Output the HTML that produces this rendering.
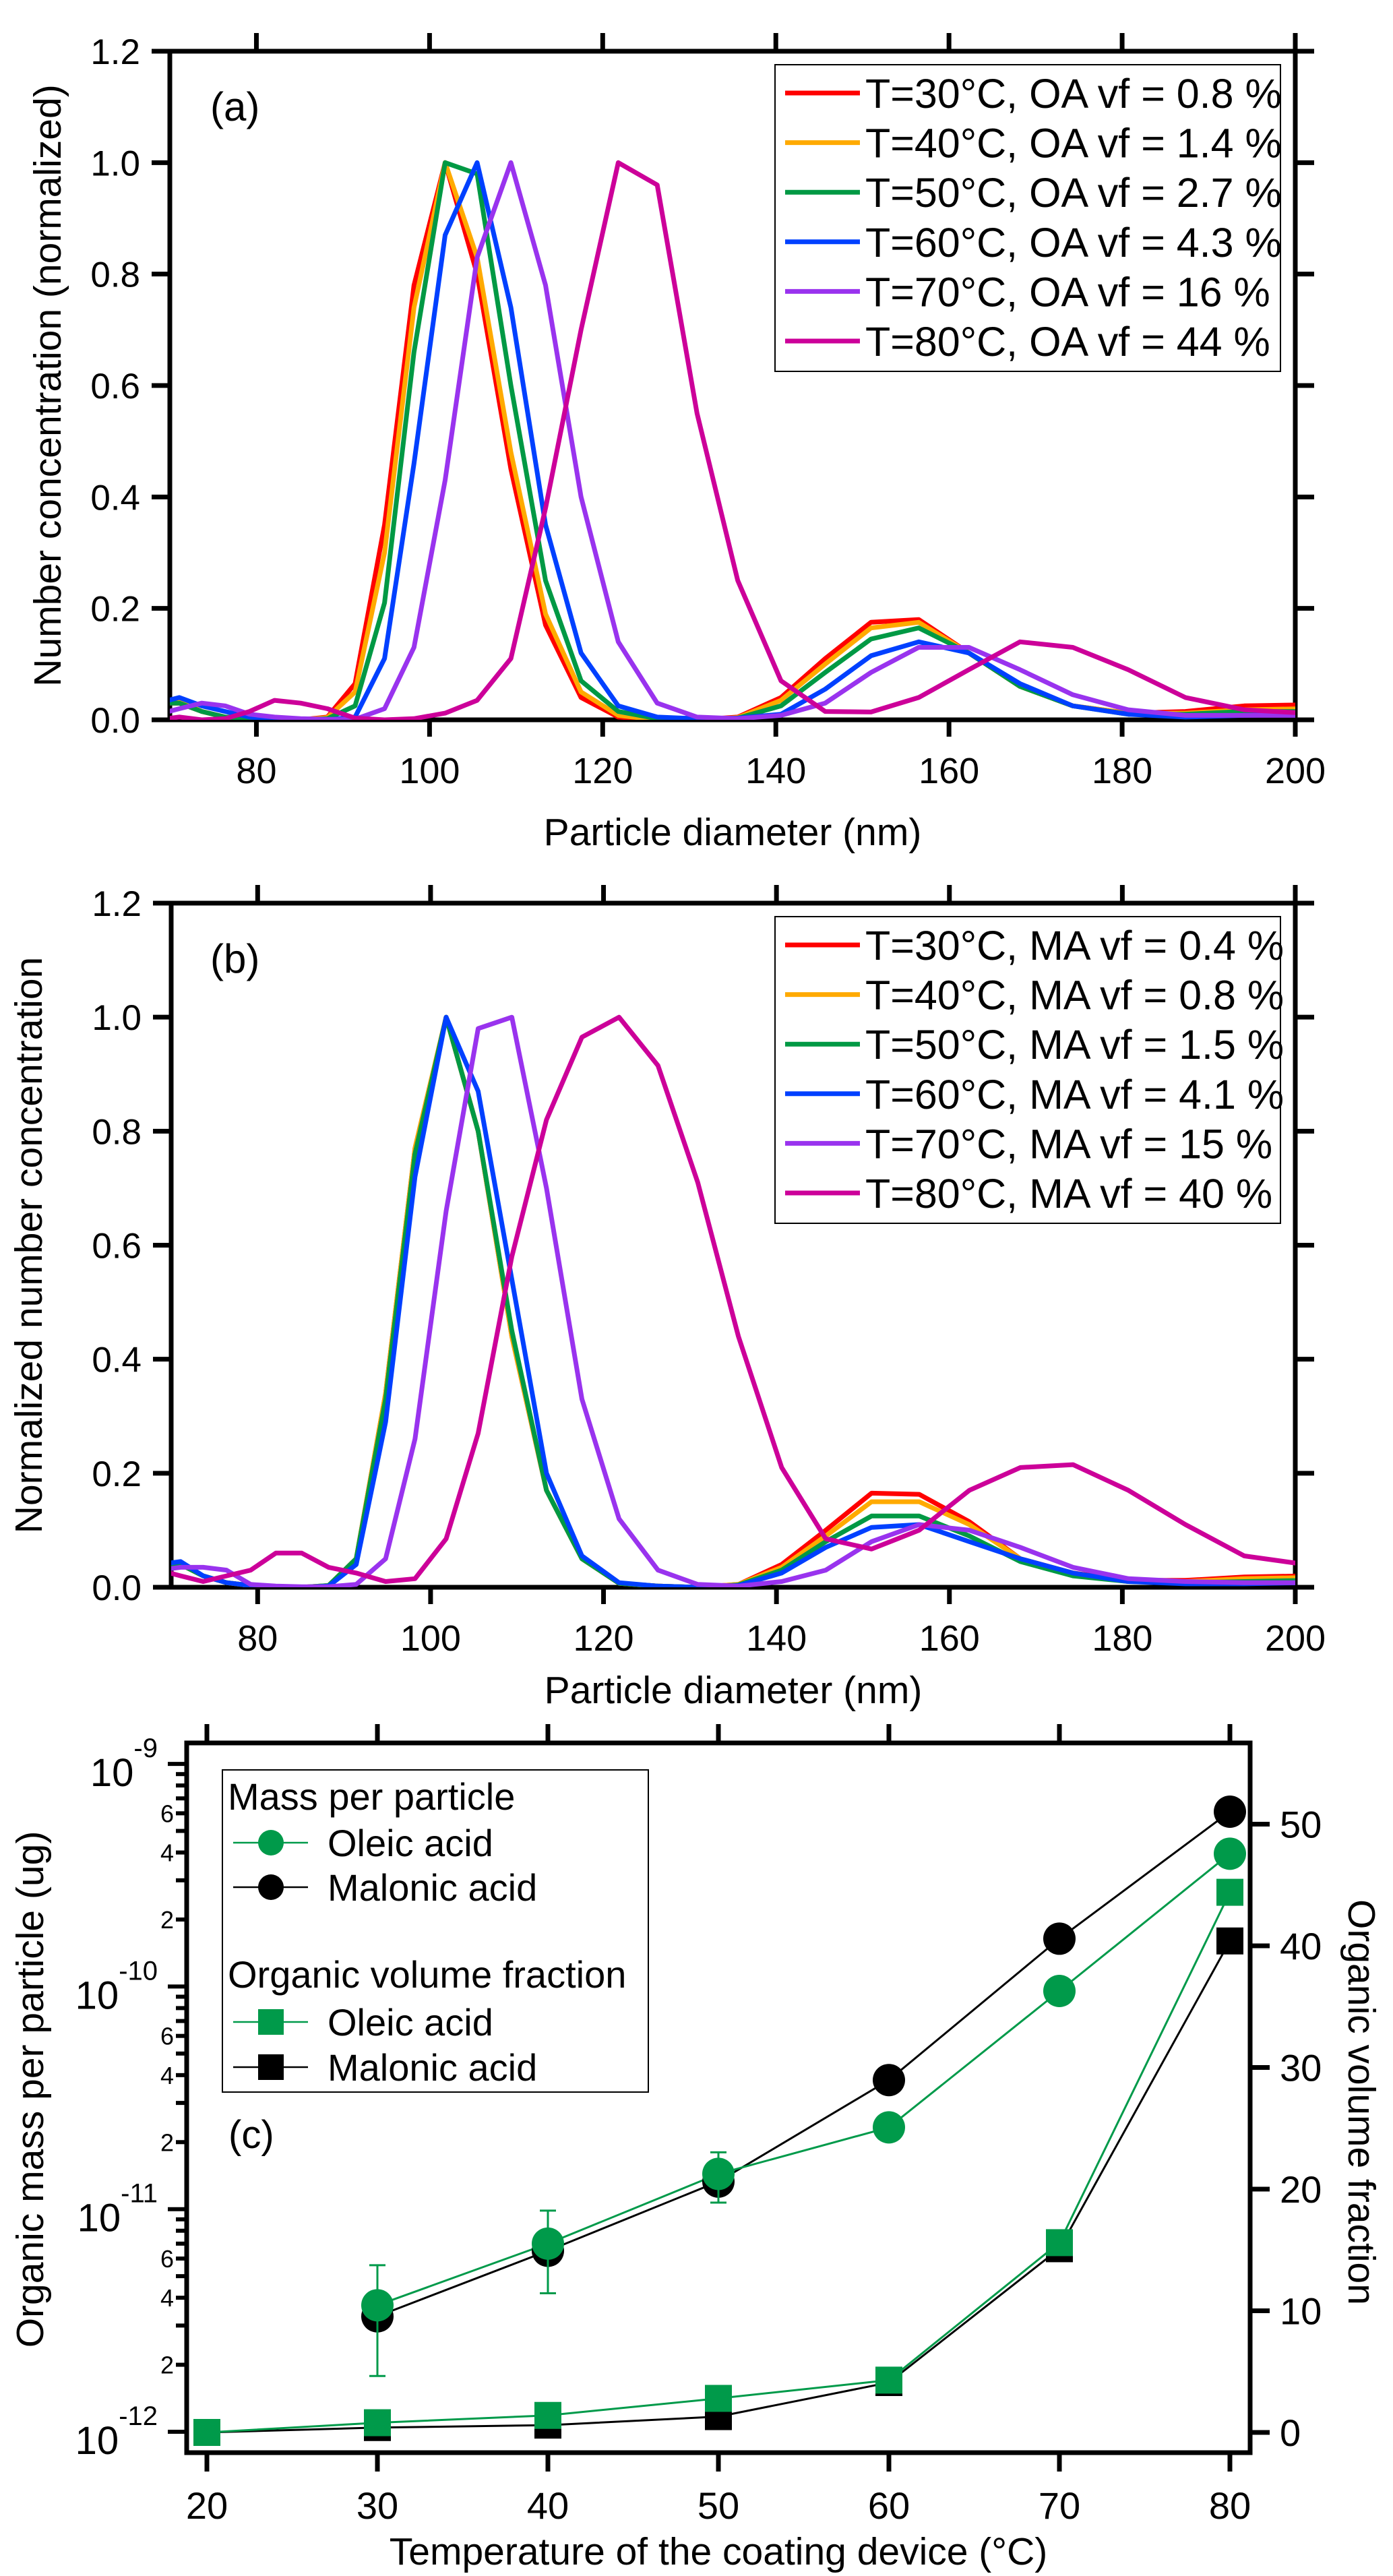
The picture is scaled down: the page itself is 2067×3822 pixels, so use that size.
<!DOCTYPE html>
<html><head><meta charset="utf-8">
<style>
html,body{margin:0;padding:0;background:#fff;}
svg{display:block;}
text{font-family:"Liberation Sans",Arial,sans-serif;fill:#000;}
</style></head>
<body>
<svg id="fig" xmlns="http://www.w3.org/2000/svg" width="2067" height="3822" viewBox="0 0 2067 3822">
<rect x="0" y="0" width="2067" height="3822" fill="#fff"/>
<defs>
<clipPath id="clipA"><rect x="252" y="76" width="1670" height="992"/></clipPath>
<clipPath id="clipB"><rect x="254" y="1340" width="1668" height="1015"/></clipPath>
</defs>
<g id="panelA"></g>
<g id="panelB"></g>
<g id="panelC"></g>
</svg>
<script>
// ---------- data panels (a) and (b) ----------
const diameters = [68.6,71.1,73.7,76.4,79.2,82.1,85.1,88.2,91.4,94.8,98.2,101.8,105.5,109.4,113.4,117.5,121.8,126.3,130.9,135.6,140.6,145.7,151.0,156.5,162.3,168.2,174.3,180.7,187.3,194.1,201.2];
const xTicksAB = [80,100,120,140,160,180,200];
const yTicksAB = ["0.0","0.2","0.4","0.6","0.8","1.0","1.2"];
const seriesColors = ["#ff0000","#ffaa00","#009944","#0040ff","#9933ee","#cc0099"];
const labelsA = ["T=30°C, OA vf = 0.8 %","T=40°C, OA vf = 1.4 %","T=50°C, OA vf = 2.7 %","T=60°C, OA vf = 4.3 %","T=70°C, OA vf = 16 %","T=80°C, OA vf = 44 %"];
const labelsB = ["T=30°C, MA vf = 0.4 %","T=40°C, MA vf = 0.8 %","T=50°C, MA vf = 1.5 %","T=60°C, MA vf = 4.1 %","T=70°C, MA vf = 15 %","T=80°C, MA vf = 40 %"];
const a30 = [0.03,0.03,0.015,0.005,0.002,0.001,0,0.005,0.065,0.35,0.78,1.0,0.80,0.45,0.17,0.04,0.005,0,0,0.005,0.04,0.11,0.175,0.18,0.12,0.06,0.025,0.012,0.015,0.025,0.027];
const a40 = [0.035,0.035,0.015,0.005,0.002,0.001,0,0.004,0.05,0.30,0.74,1.0,0.83,0.48,0.19,0.05,0.008,0,0,0.004,0.035,0.10,0.165,0.175,0.12,0.06,0.025,0.012,0.012,0.018,0.02];
const a50 = [0.03,0.03,0.015,0.005,0.002,0.001,0,0.002,0.025,0.21,0.66,1.0,0.98,0.60,0.25,0.07,0.015,0.002,0,0.003,0.025,0.085,0.145,0.165,0.12,0.06,0.025,0.01,0.01,0.015,0.015];
const a60 = [0.03,0.04,0.025,0.015,0.005,0.001,0,0,0.005,0.11,0.46,0.87,1.0,0.74,0.35,0.12,0.025,0.005,0.002,0.003,0.01,0.055,0.115,0.14,0.12,0.065,0.025,0.01,0.005,0.008,0.01];
const a70 = [0.01,0.02,0.03,0.025,0.01,0.005,0.002,0.001,0.001,0.02,0.13,0.43,0.83,1.0,0.78,0.40,0.14,0.03,0.005,0.002,0.008,0.03,0.085,0.13,0.13,0.09,0.045,0.018,0.008,0.008,0.008];
const a80 = [0.0,0.005,0.0,0.002,0.015,0.035,0.03,0.02,0.003,0.0,0.002,0.012,0.035,0.11,0.38,0.70,1.0,0.96,0.55,0.25,0.07,0.015,0.014,0.04,0.09,0.14,0.13,0.09,0.04,0.018,0.012];
const b30 = [0.04,0.04,0.02,0.008,0.003,0.001,0,0.003,0.05,0.34,0.77,1.0,0.80,0.44,0.17,0.05,0.007,0.002,0,0.005,0.04,0.10,0.165,0.163,0.115,0.05,0.025,0.012,0.012,0.018,0.02];
const b40 = [0.04,0.04,0.02,0.008,0.003,0.001,0,0.003,0.05,0.34,0.77,1.0,0.80,0.44,0.17,0.05,0.007,0.002,0,0.005,0.035,0.09,0.15,0.15,0.11,0.05,0.022,0.01,0.01,0.015,0.017];
const b50 = [0.04,0.04,0.02,0.008,0.003,0.001,0,0.003,0.05,0.33,0.76,1.0,0.80,0.45,0.17,0.05,0.007,0.002,0,0.004,0.03,0.08,0.125,0.125,0.09,0.045,0.02,0.01,0.008,0.01,0.012];
const b60 = [0.04,0.045,0.02,0.008,0.003,0.001,0,0.002,0.04,0.29,0.72,1.0,0.87,0.54,0.20,0.055,0.008,0.002,0,0.003,0.025,0.07,0.105,0.11,0.08,0.05,0.025,0.01,0.006,0.006,0.008];
const b70 = [0.03,0.035,0.035,0.03,0.005,0.002,0.001,0.001,0.005,0.05,0.26,0.66,0.98,1.0,0.70,0.33,0.12,0.03,0.005,0.002,0.01,0.03,0.08,0.11,0.10,0.07,0.035,0.015,0.01,0.008,0.008];
const b80 = [0.03,0.02,0.01,0.02,0.03,0.06,0.06,0.035,0.025,0.01,0.015,0.085,0.27,0.58,0.82,0.965,1.0,0.915,0.71,0.44,0.21,0.085,0.067,0.10,0.17,0.21,0.215,0.17,0.11,0.055,0.04];
const seriesA = [a30,a40,a50,a60,a70,a80];
const seriesB = [b30,b40,b50,b60,b70,b80];

// ---------- data panel (c) ----------
const temps = [20,30,40,50,60,70,80];
const massOleic = [null,3.7e-12,7.0e-12,1.44e-11,2.33e-11,9.55e-11,3.95e-10];
const massMalonic = [null,3.3e-12,6.5e-12,1.33e-11,3.8e-11,1.64e-10,6.1e-10];
const errOleicHi = [null,5.6e-12,9.85e-12,1.8e-11,null,null,null];
const errOleicLo = [null,1.78e-12,4.19e-12,1.07e-11,null,null,null];
const vfOleic = [0,0.8,1.4,2.8,4.3,15.6,44.4];
const vfMalonic = [0,0.4,0.6,1.3,4.1,15.1,40.4];
const xTicksC = [20,30,40,50,60,70,80];
const yRightTicks = [0,10,20,30,40,50];
const decadeExps = [-12,-11,-10,-9];

const NS = "http://www.w3.org/2000/svg";
function mk(parent, tag, attrs, txt){
  const e = document.createElementNS(NS, tag);
  for (const k in attrs) e.setAttribute(k, attrs[k]);
  if (txt !== undefined) e.textContent = txt;
  parent.appendChild(e);
  return e;
}

function drawDist(gid, clipId, L, R, T, B, series, labels, tag, yLabel, titleY, tickLabY, ylabX){
  const g = document.getElementById(gid);
  const xs = d => L + (d - 70) / 130 * (R - L);
  const ys = v => B - v / 1.2 * (B - T);
  // frame
  const fr = mk(g, "rect", {x:L, y:T, width:R-L, height:B-T, fill:"none", stroke:"#000", "stroke-width":7});
  
  
  // x ticks
  xTicksAB.forEach(t => {
    const x = xs(t);
    const tb = mk(g, "line", {x1:x, y1:B, x2:x, y2:B+25, stroke:"#000", "stroke-width":7});
    
    
    const tt = mk(g, "line", {x1:x, y1:T, x2:x, y2:T-27, stroke:"#000", "stroke-width":7});
    
    
    const lb = mk(g, "text", {x:x, y:tickLabY, "font-size":54, "text-anchor":"middle"}, String(t));
    
    
  });
  yTicksAB.forEach(s => {
    const y = ys(parseFloat(s));
    const tl = mk(g, "line", {x1:L-27, y1:y, x2:L, y2:y, stroke:"#000", "stroke-width":7});
    
    
    const tr = mk(g, "line", {x1:R, y1:y, x2:R+28, y2:y, stroke:"#000", "stroke-width":7});
    
    
    const lb = mk(g, "text", {x:L-44, y:y+19, "font-size":53, "text-anchor":"end"}, s);
    
    
  });
  // series
  const sg = mk(g, "g", {"clip-path":"url(#"+clipId+")"});
  
  
  series.forEach((vals, i) => {
    const pts = vals.map((v, j) => xs(diameters[j]).toFixed(1) + "," + ys(v).toFixed(1)).join(" ");
    const pl = mk(sg, "polyline", {points:pts, fill:"none", stroke:seriesColors[i], "stroke-width":7, "stroke-linejoin":"round"});
    
    
  });
  // legend
  const lx = 1150, ly = T + 20;
  const lbox = mk(g, "rect", {x:lx, y:ly, width:750, height:455, fill:"#fff", stroke:"#000", "stroke-width":2});
  
  
  labels.forEach((s, i) => {
    const cy = ly + 42 + i * 73.6;
    const ll = mk(g, "line", {x1:1165, y1:cy, x2:1276, y2:cy, stroke:seriesColors[i], "stroke-width":7});
    
    
    const lt = mk(g, "text", {x:1284, y:cy + 22, "font-size":61}, s);
    
    
  });
  const tg = mk(g, "text", {x:312, y:T + 103, "font-size":60}, tag);
  
  
  const xt = mk(g, "text", {x:(L+R)/2, y:titleY, "font-size":57, "text-anchor":"middle"}, "Particle diameter (nm)");
  
  
  const cyl = (T + B) / 2;
  const yt = mk(g, "text", {x:0, y:0, "font-size":57, "text-anchor":"middle", transform:"translate(" + ylabX + "," + cyl + ") rotate(-90)"}, yLabel);
  
  
}

drawDist("panelA", "clipA", 252, 1922, 76, 1068, seriesA, labelsA, "(a)", "Number concentration (normalized)", 1254, 1162, 90);
drawDist("panelB", "clipB", 254, 1922, 1340, 2355, seriesB, labelsB, "(b)", "Normalized number concentration", 2527, 2449, 62);

// ---------- panel (c) ----------
(function(){
  const g = document.getElementById("panelC");
  const L = 277, R = 1855, T = 2586, B = 3639;
  const xs = t => 307 + (t - 20) / 10 * 253;
  const ysL = v => 3608 - (Math.log10(v) + 12) * 330.3;
  const ysR = v => 3609 - v * 18.05;
  const fr = mk(g, "rect", {x:L, y:T, width:R-L, height:B-T, fill:"none", stroke:"#000", "stroke-width":7});
  
  
  xTicksC.forEach(t => {
    const x = xs(t);
    const tb = mk(g, "line", {x1:x, y1:B, x2:x, y2:B+28, stroke:"#000", "stroke-width":7});
    
    
    const tt = mk(g, "line", {x1:x, y1:T, x2:x, y2:T-28, stroke:"#000", "stroke-width":7});
    
    
    const lb = mk(g, "text", {x:x, y:3737, "font-size":56, "text-anchor":"middle"}, String(t));
    
    
  });
  // log ticks left
  decadeExps.forEach(e => {
    for (let m = 1; m <= 9; m++) {
      if (e === -9 && m > 1) break;
      const y = ysL(m * Math.pow(10, e));
      const len = m === 1 ? 28 : 16;
      const tk = mk(g, "line", {x1:L-len, y1:y, x2:L, y2:y, stroke:"#000", "stroke-width":6});
      
      
      if (m === 2 || m === 4 || m === 6) {
        const ml = mk(g, "text", {x:258, y:y+13, "font-size":36, "text-anchor":"end"}, String(m));
        
        
      }
    }
    const y = ysL(Math.pow(10, e));
    const dl = mk(g, "text", {x:234, y:y+33, "font-size":58, "text-anchor":"end"});
    
    
    const t1 = mk(dl, "tspan", {}, "10");
    const t2 = mk(dl, "tspan", {dy:-43, "font-size":40}, String(e));
  });
  yRightTicks.forEach(v => {
    const y = ysR(v);
    const tk = mk(g, "line", {x1:R, y1:y, x2:R+29, y2:y, stroke:"#000", "stroke-width":7});
    
    
    const lb = mk(g, "text", {x:1899, y:y+20, "font-size":56}, String(v));
    
    
  });
  const GREEN = "#009a4a";
  function seriesLine(vals, ys, color, name){
    const pts = [];
    vals.forEach((v, i) => { if (v !== null) pts.push(xs(temps[i]).toFixed(1) + "," + ys(v).toFixed(1)); });
    const pl = mk(g, "polyline", {points:pts.join(" "), fill:"none", stroke:color, "stroke-width":3});
    
    
  }
  seriesLine(vfMalonic, ysR, "#000", "vf-malonic-line");
  seriesLine(vfOleic, ysR, GREEN, "vf-oleic-line");
  seriesLine(massMalonic, ysL, "#000", "mass-malonic-line");
  seriesLine(massOleic, ysL, GREEN, "mass-oleic-line");
  vfMalonic.forEach((v, i) => {
    const r = mk(g, "rect", {x:xs(temps[i])-20, y:ysR(v)-20, width:40, height:40, fill:"#000"});
    
    
  });
  vfOleic.forEach((v, i) => {
    const r = mk(g, "rect", {x:xs(temps[i])-20, y:ysR(v)-20, width:40, height:40, fill:GREEN});
    
    
  });
  massMalonic.forEach((v, i) => {
    if (v === null) return;
    const c = mk(g, "circle", {cx:xs(temps[i]), cy:ysL(v), r:24, fill:"#000"});
    
    
  });
  errOleicHi.forEach((hi, i) => {
    if (hi === null) return;
    const x = xs(temps[i]), y1 = ysL(hi), y2 = ysL(errOleicLo[i]);
    const e = mk(g, "path", {d:"M"+x+","+y1+"V"+y2+"M"+(x-12)+","+y1+"H"+(x+12)+"M"+(x-12)+","+y2+"H"+(x+12), stroke:GREEN, "stroke-width":3, fill:"none"});
    
    
  });
  massOleic.forEach((v, i) => {
    if (v === null) return;
    const c = mk(g, "circle", {cx:xs(temps[i]), cy:ysL(v), r:24, fill:GREEN});
    
    
  });
  // legend
  const lb = mk(g, "rect", {x:330, y:2626, width:632, height:478, fill:"#fff", stroke:"#000", "stroke-width":2});
  
  
  const h1 = mk(g, "text", {x:338, y:2685, "font-size":56}, "Mass per particle");
  
  
  const h2 = mk(g, "text", {x:338, y:2949, "font-size":56}, "Organic volume fraction");
  
  
  const entries = [[2734, GREEN, "circle", "Oleic acid"], [2800, "#000", "circle", "Malonic acid"], [3000, GREEN, "square", "Oleic acid"], [3067, "#000", "square", "Malonic acid"]];
  entries.forEach(en => {
    const y = en[0];
    const ln = mk(g, "line", {x1:346, y1:y, x2:457, y2:y, stroke:en[1], "stroke-width":2.5});
    
    
    let m;
    if (en[2] === "circle") m = mk(g, "circle", {cx:402, cy:y, r:19, fill:en[1]});
    else m = mk(g, "rect", {x:383, y:y-19, width:38, height:38, fill:en[1]});
    
    
    const t = mk(g, "text", {x:486, y:y+20, "font-size":56}, en[3]);
    
    
  });
  const tg = mk(g, "text", {x:339, y:3187, "font-size":58}, "(c)");
  
  
  const xt = mk(g, "text", {x:1066, y:3805, "font-size":57, "text-anchor":"middle"}, "Temperature of the coating device (°C)");
  
  
  const yl = mk(g, "text", {x:0, y:0, "font-size":57, "text-anchor":"middle", transform:"translate(64,3100) rotate(-90)"}, "Organic mass per particle (ug)");
  
  
  const yr = mk(g, "text", {x:0, y:0, "font-size":57, "text-anchor":"middle", transform:"translate(2001,3119) rotate(90)"}, "Organic volume fraction");
  
  
})();
</script>
</body></html>
